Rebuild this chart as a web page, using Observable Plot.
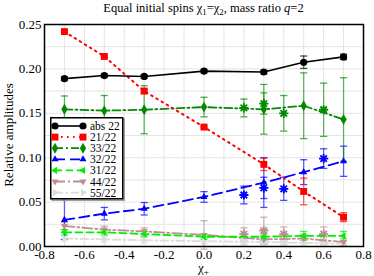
<!DOCTYPE html>
<html><head><meta charset="utf-8">
<script src="https://cdn.jsdelivr.net/npm/d3@7"></script>
<script src="https://cdn.jsdelivr.net/npm/@observablehq/plot@0.6"></script>
<style>
body{margin:0;background:#fff;}
#wrap{position:relative;width:374px;height:276px;font-family:"Liberation Serif","DejaVu Serif",serif;color:#000;overflow:hidden;}
#chart{position:absolute;left:0;top:0;}
#chart svg, #chart svg text{font-family:"Liberation Serif","DejaVu Serif",serif !important;}
#title{position:absolute;top:1px;left:44px;width:319px;text-align:center;font-size:12.5px;line-height:15px;white-space:nowrap;}
#xlabel{position:absolute;top:261px;left:44px;width:319px;text-align:center;font-size:13px;line-height:14px;}
#ylabel{position:absolute;left:-102px;top:127px;width:222px;height:16px;line-height:16px;text-align:center;font-size:13px;transform:rotate(-90deg);transform-origin:center;white-space:nowrap;}
sub{font-size:0.7em;vertical-align:-0.3em;line-height:0;}
#legend{position:absolute;left:50px;top:117px;}
#legend text{font-family:"Liberation Serif","DejaVu Serif",serif;}
</style>
</head><body>
<div id="wrap">
  <div id="chart"></div>
  <div id="title">Equal initial spins χ<sub>1</sub>=χ<sub>2</sub>, mass ratio <i>q</i>=2</div>
  <div id="xlabel">χ<sub>+</sub></div>
  <div id="ylabel">Relative amplitudes</div>
  <div id="legend"></div>
</div>
<script>
// ---- data ----
const chi = [-0.7, -0.5, -0.3, 0.0, 0.3, 0.5, 0.7];
const chiStar = [0.2, 0.3, 0.4, 0.6];
const seriesNames = ["abs 22", "21/22", "33/22", "32/22", "31/22", "44/22", "55/22"];

const abs22    = [0.189, 0.1925, 0.1915, 0.1975, 0.1965, 0.2075, 0.2135];
const abs22Err = [0.002, 0.002, 0.002, 0.002, 0.002, 0.007, 0.003];
const r21      = [0.242, 0.214, 0.175, 0.1345, 0.0925, 0.062, 0.033];
const r21Err   = [0.001, 0.001, 0.002, 0.001, 0.007, 0.015, 0.005];
const r33      = [0.1545, 0.153, 0.154, 0.157, 0.1545, 0.1585, 0.143];
const r33Err   = [0.015, 0.017, 0.027, 0.011, 0.028, 0.037, 0.047];
const r32      = [0.030, 0.037, 0.0425, 0.0558, 0.072, 0.0837, 0.096];
const r32Err   = [0.022, 0.007, 0.007, 0.006, 0.028, 0.014, 0.017];
const r31      = [0.016, 0.016, 0.014, 0.011, 0.011, 0.012, 0.012];
const r31Err   = [0.003, 0.003, 0.003, 0.003, 0.004, 0.005, 0.005];
const r44      = [0.023, 0.019, 0.017, 0.013, 0.008, 0.009, 0.005];
const r44Err   = [0.004, 0.004, 0.004, 0.016, 0.005, 0.005, 0.004];
const r55      = [0.009, 0.008, 0.007, 0.006, 0.005, 0.004, 0.003];
const r55Err   = [0.003, 0.003, 0.003, 0.003, 0.003, 0.003, 0.003];

// additional (asterisk) runs
const starNames = ["33/22", "32/22", "44/22", "55/22"];
const s33    = [0.156, 0.161, 0.150, 0.154];
const s33Err = [0.010, 0.012, 0.020, 0.030];
const s32    = [0.058, 0.066, 0.065, 0.099];
const s32Err = [0.010, 0.012, 0.013, 0.011];
const s44    = [0.014, 0.018, 0.014, 0.014];
const s44Err = [0.007, 0.015, 0.008, 0.008];
const s55    = [0.005, 0.006, 0.005, 0.005];
const s55Err = [0.003, 0.004, 0.003, 0.003];

const xTicks = [-0.8, -0.6, -0.4, -0.2, 0.0, 0.2, 0.4, 0.6, 0.8];
const yTicks = [0.00, 0.05, 0.10, 0.15, 0.20, 0.25];
const xGrid = [-0.8, -0.7, -0.6, -0.5, -0.4, -0.3, -0.2, -0.1, 0.0, 0.1, 0.2, 0.3, 0.4, 0.5, 0.6, 0.7, 0.8];
const yGrid = [0, 0.025, 0.05, 0.075, 0.1, 0.125, 0.15, 0.175, 0.2, 0.225, 0.25];

// ---- symbols ----
function tri(angle) {
  return {draw(ctx, size) {
    const r = Math.sqrt(size / Math.PI) * 1.2;
    for (let i = 0; i < 3; i++) {
      const a = angle + i * 2 * Math.PI / 3;
      if (i === 0) ctx.moveTo(r * Math.cos(a), r * Math.sin(a));
      else ctx.lineTo(r * Math.cos(a), r * Math.sin(a));
    }
    ctx.closePath();
  }};
}
const triUp = tri(-Math.PI / 2), triDown = tri(Math.PI / 2), triLeft = tri(Math.PI), triRight = tri(0);
const star = {draw(ctx, size) {
  const r = Math.sqrt(size / Math.PI);
  for (let k = 0; k < 4; k++) {
    const a = k * Math.PI / 4;
    ctx.moveTo(r * Math.cos(a), r * Math.sin(a));
    ctx.lineTo(-r * Math.cos(a), -r * Math.sin(a));
  }
}};
const hline = {draw(ctx, size) {
  const r = Math.sqrt(size / Math.PI);
  ctx.moveTo(-r, 0); ctx.lineTo(r, 0);
}};

const styles = {
  "abs 22": {color: "#000000", dash: null,       symbol: "circle",  r: 3.6, w: 1.6},
  "21/22":  {color: "#ff0000", dash: "1.6,4.4",  symbol: "square",  r: 3.9, w: 2},
  "33/22":  {color: "#008a00", dash: "8,3,2,3",  symbol: "diamond", r: 3.3, w: 1.8},
  "32/22":  {color: "#0000ff", dash: "10,5",     symbol: triUp,     r: 3.4, w: 1.8},
  "31/22":  {color: "#00ee00", dash: "7,4",      symbol: triLeft,   r: 3.4, w: 1.8},
  "44/22":  {color: "#bc8f8f", dash: "10,3,2,3", symbol: triDown,   r: 3.4, w: 1.8},
  "55/22":  {color: "#dcdcdc", dash: "8,3,2,3",  symbol: triRight,  r: 3.4, w: 1.8}
};

const values = [abs22, r21, r33, r32, r31, r44, r55];
const errs = [abs22Err, r21Err, r33Err, r32Err, r31Err, r44Err, r55Err];
const rows = seriesNames.flatMap((name, i) => chi.map((x, j) => ({name, x, y: values[i][j], e: errs[i][j]})));
const sVals = [s33, s32, s44, s55], sErrs = [s33Err, s32Err, s44Err, s55Err];
const starRows = starNames.flatMap((name, i) => chiStar.map((x, j) => ({name, x, y: sVals[i][j], e: sErrs[i][j]})));

const marks = [
  Plot.ruleX(xGrid, {stroke: "#e4e4e4", strokeWidth: 1}),
  Plot.ruleY(yGrid, {stroke: "#e4e4e4", strokeWidth: 1})
];
const errMarks = (data, st) => [
  Plot.ruleX(data, {x: "x", y1: d => d.y - d.e, y2: d => d.y + d.e, stroke: st.color, strokeOpacity: 0.6, strokeWidth: 1.3}),
  Plot.dot(data, {x: "x", y: d => d.y - d.e, symbol: hline, r: 3.6, stroke: st.color, strokeOpacity: 0.7, fill: "none", strokeWidth: 1.3}),
  Plot.dot(data, {x: "x", y: d => d.y + d.e, symbol: hline, r: 3.6, stroke: st.color, strokeOpacity: 0.7, fill: "none", strokeWidth: 1.3})
];
for (const name of [...seriesNames].reverse()) {
  const st = styles[name];
  marks.push(...errMarks(starRows.filter(d => d.name === name), st));
  marks.push(...errMarks(rows.filter(d => d.name === name), st));
}
for (const name of [...seriesNames].reverse()) {
  const st = styles[name];
  const data = rows.filter(d => d.name === name);
  marks.push(Plot.line(data, {x: "x", y: "y", stroke: st.color, strokeWidth: st.w, strokeDasharray: st.dash || undefined}));
  marks.push(Plot.dot(data, {x: "x", y: "y", symbol: st.symbol, r: st.r, fill: st.color, stroke: "none"}));
  marks.push(Plot.dot(starRows.filter(d => d.name === name), {x: "x", y: "y", symbol: star, r: 4.6, stroke: st.color, strokeWidth: 1.8, fill: "none"}));
}
marks.push(Plot.frame({stroke: "#000", strokeWidth: 1.5}));
marks.push(Plot.axisX(xTicks, {tickFormat: d => d.toFixed(1), tickSize: 0, tickPadding: 3, fontSize: 13, label: null}));
marks.push(Plot.axisY(yTicks, {tickFormat: d => d.toFixed(2), tickSize: 0, tickPadding: 3, fontSize: 13, label: null}));

const chart = Plot.plot({
  width: 374, height: 276,
  marginTop: 24, marginRight: 11, marginBottom: 30, marginLeft: 44,
  x: {domain: [-0.8, 0.8]},
  y: {domain: [0, 0.25]},
  style: {fontFamily: "'Liberation Serif', 'DejaVu Serif', serif", fontSize: "13px", background: "white", color: "black", overflow: "visible"},
  marks
});
document.getElementById("chart").appendChild(chart);

// ---- legend ----
const leg = d3.select("#legend").append("svg").attr("width", 78).attr("height", 86).style("overflow", "visible");
leg.append("rect").attr("x", 2.2).attr("y", 2.2).attr("width", 72).attr("height", 81).attr("fill", "none").attr("stroke", "#9a9a9a").attr("stroke-width", 1.5);
leg.append("rect").attr("x", 0.75).attr("y", 0.75).attr("width", 72).attr("height", 81).attr("fill", "white").attr("stroke", "#000").attr("stroke-width", 1.5);
seriesNames.forEach((name, i) => {
  const st = styles[name];
  const cy = 9 + i * 11.1;
  const g = leg.append("g");
  g.append("line").attr("x1", 5).attr("x2", 33).attr("y1", cy).attr("y2", cy)
    .attr("stroke", st.color).attr("stroke-width", st.w).attr("stroke-dasharray", st.dash);
  const sym = typeof st.symbol === "string"
    ? ({circle: d3.symbolCircle, square: d3.symbolSquare, diamond: d3.symbolDiamond})[st.symbol]
    : st.symbol;
  const p = d3.symbol(sym, Math.PI * st.r * st.r)();
  [5, 33].forEach(x => g.append("path").attr("d", p).attr("transform", `translate(${x},${cy})`).attr("fill", st.color));
  g.append("text").attr("x", 40).attr("y", cy).attr("dy", "0.35em")
    .attr("font-size", 11.5).text(name);
});
</script>
</body></html>
